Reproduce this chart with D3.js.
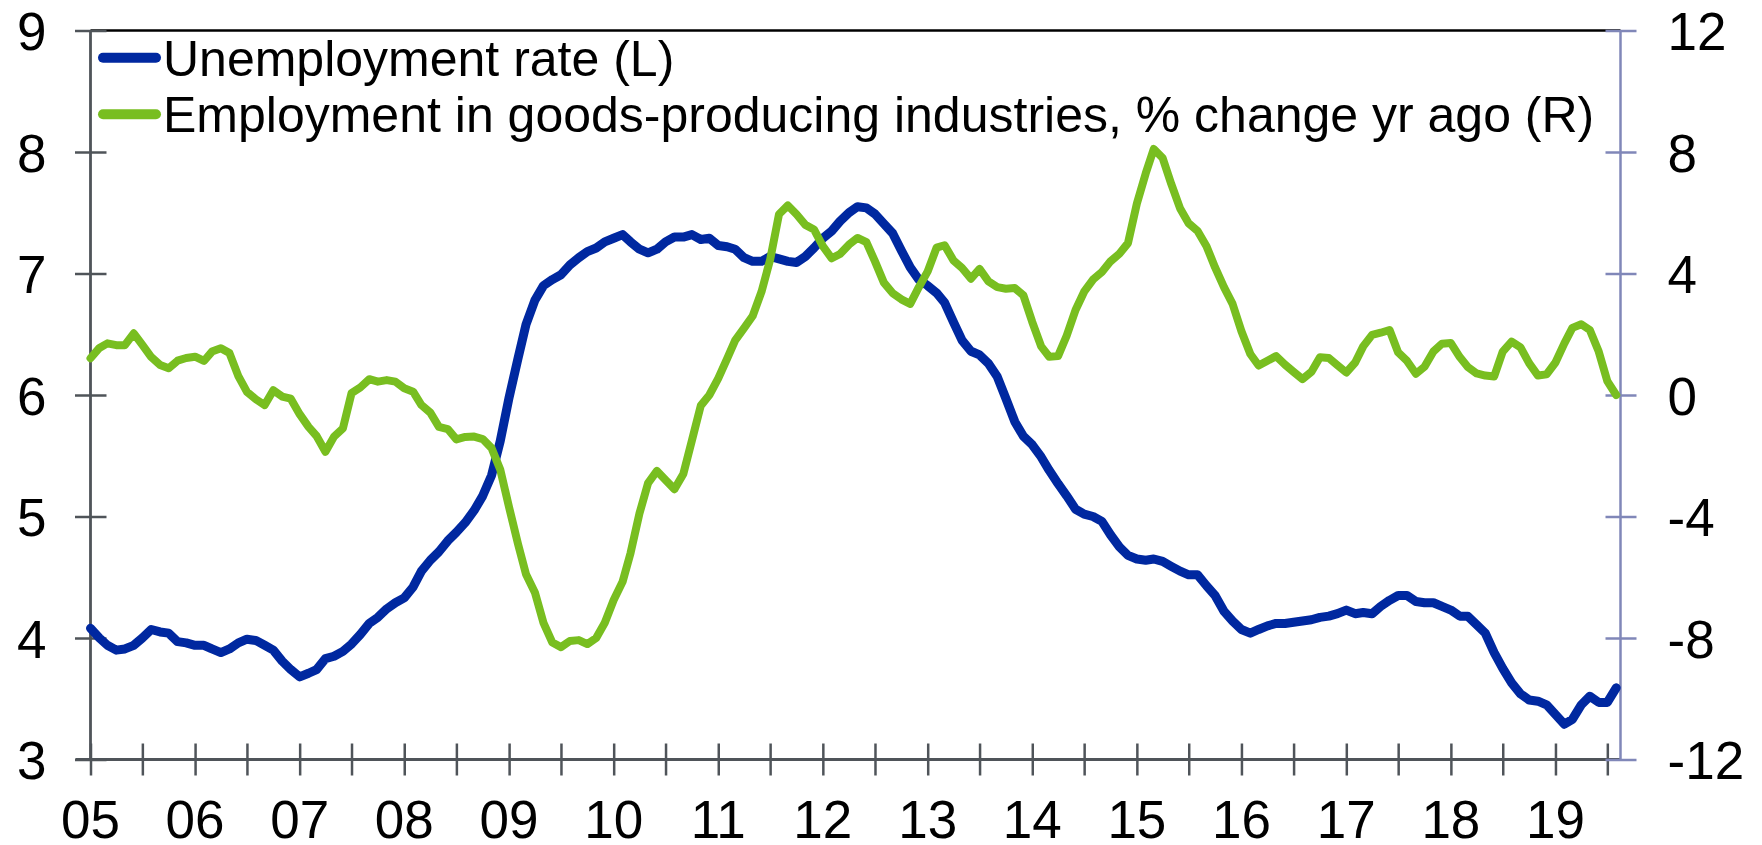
<!DOCTYPE html>
<html>
<head>
<meta charset="utf-8">
<script src="https://cdn.jsdelivr.net/npm/d3@7/dist/d3.min.js"></script>
<style>
  body { margin: 0; background: #fff; }
  svg text { font-family: "Liberation Sans", Arial, sans-serif; fill: #000; }
</style>
</head>
<body>
<div id="chart"></div>
<script>
// monthly series, Jan 2005 .. Aug 2019
const firstMonth = new Date(2005, 0, 1);

const unemployment = [
  4.08, 4.00, 3.94, 3.90, 3.91, 3.94, 4.00, 4.07, 4.05, 4.04, 3.97, 3.96,
  3.94, 3.94, 3.91, 3.88, 3.91, 3.96, 3.99, 3.98, 3.94, 3.90, 3.81, 3.74,
  3.68, 3.71, 3.74, 3.83, 3.85, 3.89, 3.95, 4.03, 4.12, 4.17, 4.24, 4.29,
  4.33, 4.42, 4.55, 4.64, 4.71, 4.80, 4.87, 4.95, 5.05, 5.17, 5.34, 5.62,
  5.98, 6.30, 6.58, 6.78, 6.90, 6.95, 6.99, 7.07, 7.13, 7.18, 7.21, 7.26,
  7.29, 7.32, 7.26, 7.20, 7.17, 7.20, 7.26, 7.30, 7.30, 7.32, 7.28, 7.29,
  7.23, 7.22, 7.20, 7.13, 7.10, 7.10, 7.14, 7.12, 7.10, 7.09, 7.14, 7.21,
  7.29, 7.35, 7.43, 7.50, 7.55, 7.54, 7.49, 7.41, 7.33, 7.19, 7.05, 6.95,
  6.90, 6.84, 6.76, 6.60, 6.45, 6.36, 6.33, 6.26, 6.15, 5.97, 5.78, 5.66,
  5.59, 5.49, 5.38, 5.27, 5.17, 5.06, 5.02, 5.00, 4.96, 4.85, 4.75, 4.68,
  4.65, 4.64, 4.65, 4.63, 4.59, 4.55, 4.52, 4.52, 4.43, 4.35, 4.22, 4.14,
  4.07, 4.04, 4.07, 4.10, 4.12, 4.12, 4.13, 4.14, 4.15, 4.17, 4.18, 4.20,
  4.23, 4.20, 4.21, 4.20, 4.26, 4.31, 4.35, 4.35, 4.30, 4.29, 4.29, 4.26,
  4.23, 4.18, 4.18, 4.11, 4.04, 3.88, 3.75, 3.63, 3.54, 3.49, 3.48, 3.45,
  3.37, 3.29, 3.33, 3.45, 3.52, 3.47, 3.47, 3.59
];

const goodsEmployment = [
  1.21, 1.55, 1.70, 1.64, 1.64, 2.03, 1.65, 1.25, 0.99, 0.88, 1.13, 1.22,
  1.26, 1.12, 1.43, 1.54, 1.38, 0.62, 0.10, -0.14, -0.33, 0.16, -0.05, -0.12,
  -0.63, -1.05, -1.35, -1.87, -1.37, -1.10, 0.06, 0.25, 0.52, 0.44, 0.49, 0.44,
  0.22, 0.11, -0.33, -0.58, -1.05, -1.12, -1.46, -1.38, -1.37, -1.45, -1.75, -2.45,
  -3.70, -4.90, -5.90, -6.50, -7.50, -8.15, -8.30, -8.10, -8.07, -8.20, -8.00, -7.50,
  -6.75, -6.15, -5.20, -3.90, -2.90, -2.50, -2.80, -3.10, -2.60, -1.50, -0.35, 0.00,
  0.55, 1.20, 1.80, 2.20, 2.60, 3.40, 4.45, 5.95, 6.24, 5.95, 5.60, 5.45,
  4.90, 4.50, 4.64, 4.95, 5.17, 5.03, 4.40, 3.70, 3.35, 3.15, 3.00, 3.55,
  4.07, 4.85, 4.93, 4.43, 4.18, 3.83, 4.15, 3.74, 3.55, 3.50, 3.52, 3.28,
  2.40, 1.60, 1.26, 1.28, 1.95, 2.80, 3.40, 3.80, 4.05, 4.40, 4.65, 5.00,
  6.30, 7.30, 8.10, 7.80, 6.95, 6.14, 5.65, 5.40, 4.90, 4.20, 3.55, 3.00,
  2.10, 1.35, 0.97, 1.13, 1.28, 1.00, 0.76, 0.52, 0.76, 1.24, 1.22, 0.98,
  0.74, 1.07, 1.60, 1.98, 2.05, 2.14, 1.40, 1.12, 0.70, 0.93, 1.43, 1.69,
  1.71, 1.25, 0.92, 0.71, 0.64, 0.61, 1.43, 1.76, 1.57, 1.05, 0.64, 0.68,
  1.07, 1.70, 2.21, 2.33, 2.14, 1.43, 0.46, 0.00
];

const leftTicks = [3, 4, 5, 6, 7, 8, 9];
const rightTicks = [-12, -8, -4, 0, 4, 8, 12];
const seriesNames = [
  "Unemployment rate (L)",
  "Employment in goods-producing industries, % change yr ago (R)"
];
const seriesColors = ["#0028a0", "#78be20"];

const width = 1762, height = 845;
const plot = { left: 90.5, right: 1620.5, top: 30.5, bottom: 759.5 };
const axisGray = "#4f5459", rightGray = "#8087b8";
const labelSize = 53;

const dates = unemployment.map((d, i) => d3.timeMonth.offset(firstMonth, i));

const x = d3.scaleTime()
  .domain([firstMonth, d3.timeDay.offset(d3.timeMonth.offset(firstMonth, unemployment.length - 1), 15)])
  .range([plot.left, plot.right]);
const yL = d3.scaleLinear().domain([3, 9]).range([plot.bottom, plot.top]);
const yR = d3.scaleLinear().domain([-12, 12]).range([plot.bottom, plot.top]);

const svg = d3.select("#chart").append("svg")
  .attr("width", width)
  .attr("height", height);

// top border
svg.append("line")
  .attr("x1", plot.left).attr("x2", plot.right)
  .attr("y1", plot.top).attr("y2", plot.top)
  .attr("stroke", "#000").attr("stroke-width", 2.5);

// x axis, ticks every 6 months crossing the line
const xAxis = svg.append("g").attr("transform", `translate(0,${plot.bottom})`)
  .call(d3.axisBottom(x)
    .ticks(d3.timeMonth.every(6))
    .tickSize(16)
    .tickFormat(""));
xAxis.select(".domain").remove();
xAxis.selectAll(".tick line")
  .attr("y1", -16).attr("y2", 16)
  .attr("stroke", axisGray).attr("stroke-width", 2.5);
xAxis.append("line")
  .attr("x1", plot.left - 15).attr("x2", plot.right)
  .attr("stroke", axisGray).attr("stroke-width", 3);

const years = x.ticks(d3.timeYear.every(1)).filter(d => d <= dates[dates.length - 1]);
svg.append("g").selectAll("text")
  .data(years)
  .join("text")
  .attr("x", d => x(d))
  .attr("y", 838)
  .attr("text-anchor", "middle")
  .attr("font-size", labelSize)
  .text(d3.timeFormat("%y"));

// left axis
const leftAxis = svg.append("g").attr("transform", `translate(${plot.left},0)`)
  .call(d3.axisLeft(yL).tickValues(leftTicks).tickSize(15.5).tickFormat(""));
leftAxis.select(".domain").remove();
leftAxis.selectAll(".tick line")
  .attr("x1", -15.5).attr("x2", 16)
  .attr("stroke", axisGray).attr("stroke-width", 2.5);
leftAxis.append("line")
  .attr("y1", plot.top).attr("y2", plot.bottom)
  .attr("stroke", axisGray).attr("stroke-width", 2.8);
leftAxis.selectAll(".tick").append("text")
  .attr("x", -44)
  .attr("dy", "0.36em")
  .attr("text-anchor", "end")
  .attr("font-size", labelSize)
  .text(d => d);

// right axis
const rightAxis = svg.append("g").attr("transform", `translate(${plot.right},0)`)
  .call(d3.axisRight(yR).tickValues(rightTicks).tickSize(16).tickFormat(""));
rightAxis.select(".domain").remove();
rightAxis.selectAll(".tick line")
  .attr("x1", -15).attr("x2", 16)
  .attr("stroke", rightGray).attr("stroke-width", 2.5);
rightAxis.append("line")
  .attr("y1", plot.top).attr("y2", plot.bottom)
  .attr("stroke", rightGray).attr("stroke-width", 2.5);
rightAxis.selectAll(".tick").append("text")
  .attr("x", 47)
  .attr("dy", "0.36em")
  .attr("text-anchor", "start")
  .attr("font-size", labelSize)
  .text(d => d);

// series
const lineL = d3.line().x((d, i) => x(dates[i])).y(d => yL(d));
const lineR = d3.line().x((d, i) => x(dates[i])).y(d => yR(d));

svg.append("path")
  .datum(unemployment)
  .attr("d", lineL)
  .attr("fill", "none")
  .attr("stroke", seriesColors[0])
  .attr("stroke-width", 9)
  .attr("stroke-linejoin", "round")
  .attr("stroke-linecap", "round");

svg.append("path")
  .datum(goodsEmployment)
  .attr("d", lineR)
  .attr("fill", "none")
  .attr("stroke", seriesColors[1])
  .attr("stroke-width", 8)
  .attr("stroke-linejoin", "round")
  .attr("stroke-linecap", "round");

// legend
const legend = svg.append("g").selectAll("g")
  .data(seriesNames)
  .join("g")
  .attr("transform", (d, i) => `translate(0,${57.7 + i * 56.6})`);
legend.append("line")
  .attr("x1", 103).attr("x2", 156)
  .attr("stroke", (d, i) => seriesColors[i])
  .attr("stroke-width", 10)
  .attr("stroke-linecap", "round");
legend.append("text")
  .attr("x", 163)
  .attr("dy", "0.36em")
  .attr("font-size", 50)
  .text(d => d);
</script>
</body>
</html>
